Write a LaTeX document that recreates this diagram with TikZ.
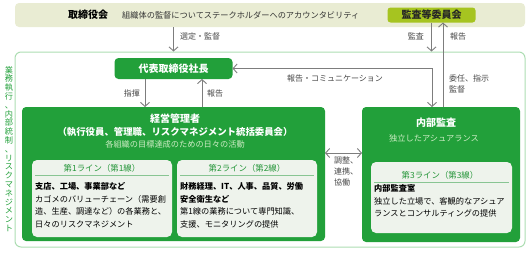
\documentclass[tikz,border=0pt]{standalone}
\usepackage{fontspec}
\setmainfont{Noto Sans CJK JP}
\usepackage{xcolor}
\usetikzlibrary{arrows.meta,positioning}
\definecolor{dgreen}{RGB}{34,160,58}
\definecolor{frameg}{RGB}{172,221,178}
\definecolor{bandfill}{RGB}{233,236,211}
\definecolor{acmfill}{RGB}{166,196,32}
\definecolor{innerfill}{RGB}{238,243,236}
\definecolor{headg}{RGB}{38,150,58}
\definecolor{subg}{RGB}{205,236,196}
\definecolor{arrowg}{RGB}{125,125,125}

\begin{document}
\begin{tikzpicture}[x=1pt, y=-1pt,
  band/.style={rectangle, rounded corners=4pt, fill=bandfill, inner sep=0pt,
               outer sep=0pt, minimum width=510pt, minimum height=24pt},
  unit/.style={rectangle, rounded corners=4pt, fill=dgreen, text=white, inner sep=0pt,
               outer sep=0pt, font=\bfseries\fontsize{10}{12}\selectfont},
  linebox/.style={rectangle, rounded corners=5pt, fill=innerfill, inner sep=0pt,
                  outer sep=0pt, minimum width=140pt, minimum height=77pt},
  head/.style={text=headg, inner sep=0pt, font=\fontsize{8.4}{10}\selectfont},
  body/.style={anchor=north west, align=left, inner sep=0pt,
               font=\fontsize{8.2}{12.8}\selectfont},
  lbl/.style={text=black!72, inner sep=0pt, align=left, font=\fontsize{8}{10.7}\selectfont},
  sep/.style={draw=headg!55, line width=0.8pt},
  arr/.style={-{Straight Barb[length=4pt,width=9pt]}, draw=arrowg, line width=0.9pt},
  darr/.style={{Straight Barb[length=4pt,width=9pt]}-{Straight Barb[length=4pt,width=9pt]},
               draw=arrowg, line width=0.9pt},
]
  \useasboundingbox (0,0) rectangle (529,252);

  % Board layer
  \node[band] (board) at (270,15) {};
  \node[font=\bfseries\fontsize{10}{12}\selectfont] (boardname) at (88,15) {取締役会};
  \node[anchor=west, inner sep=0pt, text=black!80, font=\fontsize{8.2}{10}\selectfont] (boardsub) at (122,15)
    {組織体の監督についてステークホルダーへのアカウンタビリティ};
  \node[unit, fill=acmfill, text=black!85, minimum width=88pt, minimum height=15pt,
        rounded corners=3pt] (acm) at (431.5,15) {監査等委員会};

  % Execution frame
  \node[rectangle, rounded corners=6pt, draw=frameg, line width=1pt, inner sep=0pt,
        minimum width=510pt, minimum height=195pt] (frame) at (270,149.5) {};
  \node[text=dgreen, align=center, inner sep=0pt, font=\fontsize{8.2}{8.8}\selectfont] (side) at (9,149)
    {業\\務\\執\\行\\、\\内\\部\\統\\制\\、\\リ\\ス\\ク\\マ\\ネ\\ジ\\メ\\ン\\ト};

  % President
  \node[unit, minimum width=118pt, minimum height=21pt] (ceo) at (173.5,68.5) {代表取締役社長};

  % Management
  \node[unit, minimum width=303pt, minimum height=134pt] (mgmt) at (173.5,174) {};
  \node[text=white, inner sep=0pt, font=\bfseries\fontsize{10}{12}\selectfont] (mtitle) at (175,119) {経営管理者};
  \node[text=white, inner sep=0pt, font=\bfseries\fontsize{9.4}{12}\selectfont] (mmembers) at (175,131.5)
    {（執行役員、管理職、リスクマネジメント統括委員会）};
  \node[text=subg, inner sep=0pt, font=\fontsize{8.2}{10}\selectfont] (mtask) at (175,144)
    {各組織の目標達成のための日々の活動};

  \node[linebox] (line1) at (102,198.5) {};
  \node[head] (head1) at (102,168.5) {第1ライン（第1線）};
  \draw[sep] (35,175) -- (169,175);
  \node[body] (body1) at (35,182) {\textbf{支店、工場、事業部など}\\
    カゴメのバリューチェーン（需要創\\造、生産、調達など）の各業務と、\\日々のリスクマネジメント};

  \node[linebox] (line2) at (247,198.5) {};
  \node[head] (head2) at (247,168.5) {第2ライン（第2線）};
  \draw[sep] (180,175) -- (314,175);
  \node[body] (body2) at (180,182) {\textbf{財務経理、IT、人事、品質、労働}\\
    \textbf{安全衛生など}\\第1線の業務について専門知識、\\支援、モニタリングの提供};

  % Internal audit
  \node[unit, minimum width=158pt, minimum height=135pt] (ia) at (441,174.5) {};
  \node[text=white, inner sep=0pt, font=\bfseries\fontsize{10}{12}\selectfont] (iatitle) at (436,122.5) {内部監査};
  \node[text=subg, inner sep=0pt, font=\fontsize{8.2}{10}\selectfont] (iasub) at (434,138) {独立したアシュアランス};

  \node[linebox, minimum width=141pt, minimum height=71pt] (line3) at (441.5,197.5) {};
  \node[head] (head3) at (440,175) {第3ライン（第3線）};
  \draw[sep] (374,182) -- (509,182);
  \node[body] (body3) at (374,184) {\textbf{内部監査室}\\
    独立した立場で、客観的なアシュア\\ランスとコンサルティングの提供};

  % Arrows
  \draw[arr] (board.south -| ceo.north) -- (frame.north -| ceo.north);
  \node[lbl, anchor=west] (lselect) at (180,36) {選定・監督};
  \draw[arr] (acm.south) -- (acm.south |- frame.north);
  \node[lbl, anchor=east] (laudit) at (424,36) {監査};
  \draw[arr] ([xshift=2pt]ia.north) -- ([xshift=2pt]ia.north |- acm.south);
  \node[lbl, anchor=west] (lreport) at (450,36) {報告};
  \node[lbl, anchor=north west] (lassign) at (449,75) {委任、指示\\監督};
  \draw[darr] ([xshift=-9pt]ia.north) |- (ceo.east);
  \node[lbl] (lcomm) at (335,78) {報告・コミュニケーション};
  \draw[arr] ([xshift=-28.5pt]ceo.south) -- ([xshift=-28.5pt]ceo.south |- mgmt.north);
  \node[lbl, anchor=east] (lcommand) at (140,93) {指揮};
  \draw[arr] ([xshift=28.5pt]ceo.south |- mgmt.north) -- ([xshift=28.5pt]ceo.south);
  \node[lbl, anchor=west] (lreport2) at (207,93) {報告};
  \draw[darr] ([yshift=21pt]mgmt.east) -- ([yshift=21pt]mgmt.east -| ia.west);
  \node[lbl, anchor=north west] (lcoop) at (334,157) {調整、\\連携、\\協働};
\end{tikzpicture}
\end{document}
